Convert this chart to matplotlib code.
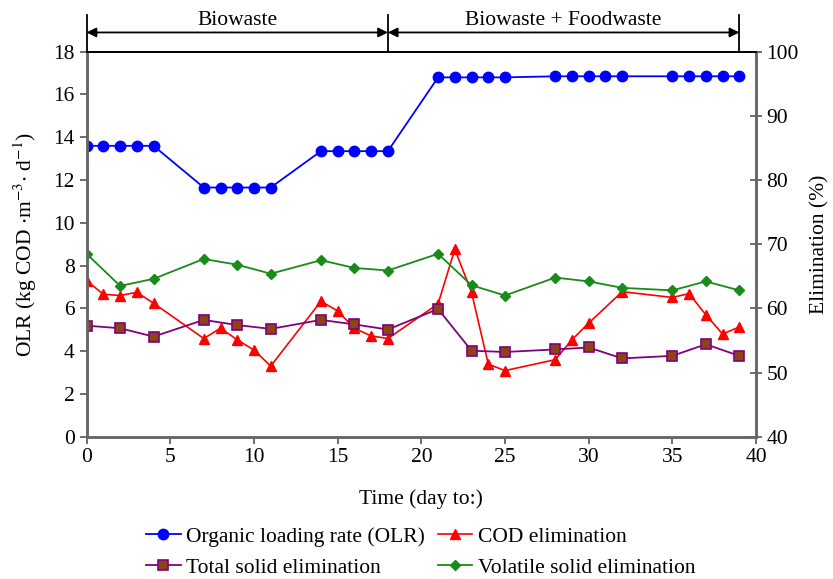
import numpy as np
import matplotlib.pyplot as plt

plt.rcParams['font.family'] = ['Liberation Serif', 'DejaVu Serif']
plt.rcParams['mathtext.fontset'] = 'stix'

# organic loading rate (kg COD m-3 d-1)
olr_days = [0, 1, 2, 3, 4, 7, 8, 9, 10, 11, 14, 15, 16, 17, 18,
            21, 22, 23, 24, 25, 28, 29, 30, 31, 32, 35, 36, 37, 38, 39]
olr = [13.6, 13.6, 13.6, 13.6, 13.6,
       11.65, 11.65, 11.65, 11.65, 11.65,
       13.35, 13.35, 13.35, 13.35, 13.35,
       16.8, 16.8, 16.8, 16.8, 16.8,
       16.85, 16.85, 16.85, 16.85, 16.85,
       16.85, 16.85, 16.85, 16.85, 16.85]

# COD elimination (%)
cod_days = [0, 1, 2, 3, 4, 7, 8, 9, 10, 11, 14, 15, 16, 17, 18,
            21, 22, 23, 24, 25, 28, 29, 30, 32, 35, 36, 37, 38, 39]
cod = [64.3, 62.2, 62.0, 62.5, 60.8, 55.3, 56.9, 55.1, 53.5, 51.0,
       61.1, 59.6, 56.9, 55.7, 55.3,
       60.7, 69.2, 62.5, 51.3, 50.3, 52.0, 55.1, 57.7, 62.6,
       61.7, 62.3, 59.0, 56.0, 57.1]

# total / volatile solid elimination (%)
sol_days = [0, 2, 4, 7, 9, 11, 14, 16, 18, 21, 23, 25, 28, 30, 32, 35, 37, 39]
ts = [57.3, 56.9, 55.6, 58.2, 57.4, 56.8, 58.2, 57.5, 56.7,
      59.9, 53.4, 53.2, 53.6, 53.9, 52.2, 52.6, 54.4, 52.6]
vs = [68.5, 63.5, 64.6, 67.7, 66.8, 65.4, 67.5, 66.3, 65.9,
      68.5, 63.6, 62.0, 64.8, 64.2, 63.2, 62.8, 64.2, 62.8]

fs = 15.5

fig = plt.figure(figsize=(8.33, 5.79), dpi=100)
ax = fig.add_axes([0.104, 0.2458, 0.8036, 0.6649])
ax2 = ax.twinx()

l1, = ax.plot(olr_days, olr, '-o', color='#0000ff', lw=1.3, ms=7.5,
              label='Organic loading rate (OLR)')
l2, = ax2.plot(cod_days, cod, '-^', color='#ff0000', lw=1.2, ms=7.5,
               label='COD elimination')
l3, = ax2.plot(sol_days, ts, '-s', color='#800080', mfc='#8b4513', mec='#800080',
               mew=1.2, lw=1.3, ms=7, label='Total solid elimination')
l4, = ax2.plot(sol_days, vs, '-D', color='#1a8a1a', lw=1.3, ms=5,
               label='Volatile solid elimination')

ax.set_xlim(0, 40)
ax.set_ylim(0, 18)
ax2.set_ylim(40, 100)
ax.set_xticks(np.arange(0, 41, 5))
ax.set_yticks(np.arange(0, 19, 2))
ax2.set_yticks(np.arange(40, 101, 10))

for a in (ax, ax2):
    for s in ('left', 'right', 'bottom'):
        a.spines[s].set_color('#666666')
        a.spines[s].set_linewidth(1.8)
    a.spines['top'].set_color('black')
    a.spines['top'].set_linewidth(1.3)
ax.tick_params(axis='both', labelsize=fs, length=5, width=1.2, color='#555555')
ax2.tick_params(axis='y', labelsize=fs, length=8, width=1.2, direction='inout',
                color='#555555')

ax.set_xlabel('Time (day to:)', fontsize=fs, labelpad=16)
ax.set_ylabel(r'OLR (kg COD $\cdot$m$^{-3}$$\cdot$ d$^{-1}$)', fontsize=fs, labelpad=10)
ax2.set_ylabel('Elimination (%)', fontsize=fs, labelpad=8)

# feeding period brackets above the plot
trans = ax.get_xaxis_transform()
for d in (0, 18, 39):
    ax.plot([d, d], [1.0, 1.095], color='black', lw=1.3, transform=trans,
            clip_on=False)
for x0, x1, txt in ((0, 18, 'Biowaste'), (18, 39, 'Biowaste + Foodwaste')):
    ax.annotate('', xy=(x1, 1.05), xytext=(x0, 1.05), xycoords=trans,
                textcoords=trans,
                arrowprops=dict(arrowstyle='<|-|>', color='black', lw=1.3,
                                mutation_scale=14, shrinkA=0, shrinkB=0))
    ax.text((x0 + x1) / 2, 1.082, txt, transform=trans, ha='center',
            va='center', fontsize=fs)

fig.legend([l1, l3, l2, l4], [l.get_label() for l in (l1, l3, l2, l4)],
           loc='center', bbox_to_anchor=(0.505, 0.046), ncol=2, frameon=False,
           fontsize=fs, handlelength=1.6, columnspacing=0.6, labelspacing=0.5,
           handletextpad=0.25)

fig.savefig('out.png', dpi=100)
